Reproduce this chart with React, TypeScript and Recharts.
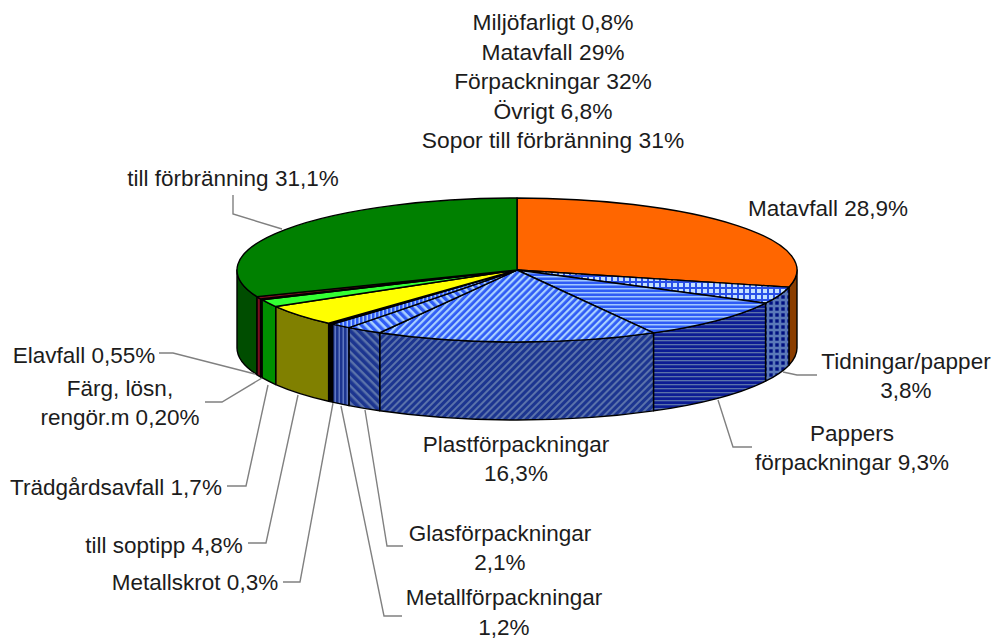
import { PieChart, Pie } from 'recharts';

const categories = [
  'Matavfall',
  'Tidningar/papper',
  'Pappers förpackningar',
  'Plastförpackningar',
  'Glasförpackningar',
  'Metallförpackningar',
  'Metallskrot',
  'till soptipp',
  'Trädgårdsavfall',
  'Färg, lösn, rengör.m',
  'Elavfall',
  'till förbränning',
];
const shares = [28.9, 3.8, 9.3, 16.3, 2.1, 1.2, 0.3, 4.8, 1.7, 0.2, 0.55, 31.1];

const summaryLines = [
  'Miljöfarligt 0,8%',
  'Matavfall 29%',
  'Förpackningar 32%',
  'Övrigt 6,8%',
  'Sopor till förbränning 31%',
];

const labelLines = [
  ['Matavfall 28,9%'],
  ['Tidningar/papper', '3,8%'],
  ['Pappers', 'förpackningar 9,3%'],
  ['Plastförpackningar', '16,3%'],
  ['Glasförpackningar', '2,1%'],
  ['Metallförpackningar', '1,2%'],
  ['Metallskrot 0,3%'],
  ['till soptipp 4,8%'],
  ['Trädgårdsavfall 1,7%'],
  ['Färg, lösn,', 'rengör.m 0,20%'],
  ['Elavfall 0,55%'],
  ['till förbränning 31,1%'],
];

// label centre x, first line centre y, then the leader line points
const labelSpots: { x: number; y: number; leader?: string }[] = [
  { x: 828, y: 208 },
  { x: 906, y: 361, leader: '817,375 797,375 783,372' },
  { x: 852, y: 433, leader: '752,447 733,447 718,400' },
  { x: 516, y: 444 },
  { x: 500, y: 533, leader: '403,546 387,546 365,410' },
  { x: 504, y: 597.5, leader: '402,616 384,616 341,406' },
  { x: 195, y: 582, leader: '283,582 300,582 333,403' },
  { x: 164, y: 545, leader: '248,543 266,543 298,395' },
  { x: 116, y: 487, leader: '227,486 246,486 268,385' },
  { x: 120, y: 388, leader: '205,402 222,402 262,378' },
  { x: 84, y: 355, leader: '159,353 173,353 255,374' },
  { x: 233, y: 178, leader: '233,195 233,214 282,229' },
];

const topFills = [
  '#ff6600', 'url(#checkTop)', 'url(#horizTop)', 'url(#slashTop)', 'url(#backTop)', 'url(#vertTop)',
  '#000000', '#ffff00', '#33ff33', '#cc0000', '#7a0f1e', '#008000',
];
const wallFills = [
  '#8a3d00', 'url(#checkWall)', 'url(#horizWall)', 'url(#slashWall)', 'url(#backWall)', 'url(#vertWall)',
  '#000000', '#808000', '#009000', '#800000', '#7a0f1e', '#004d00',
];

const SQUASH = 72 / 280;
const DEPTH = 78;
const RAD = Math.PI / 180;
const FONT = "'Liberation Sans', Arial, sans-serif";

const tableData = categories.map((name, i) => ({ name, value: shares[i], index: i }));

const SliceShape = (props: any) => {
  const { cx, cy, outerRadius, startAngle, endAngle, payload } = props;
  const i = payload?.index ?? props.index ?? 0;
  const rx = outerRadius;
  const ry = outerRadius * SQUASH;
  const px = (a: number) => cx + rx * Math.cos(a * RAD);
  const py = (a: number) => cy - ry * Math.sin(a * RAD);

  const hi = Math.max(startAngle, endAngle);
  const lo = Math.min(startAngle, endAngle);
  // the wall only shows on the front half of the rim
  const wallHi = Math.min(hi, 0);
  const wallLo = Math.max(lo, -180);
  const hasWall = wallHi > wallLo;

  const large = hi - lo > 180 ? 1 : 0;
  const top = `M${cx},${cy} L${px(hi)},${py(hi)} A${rx},${ry} 0 ${large} 1 ${px(lo)},${py(lo)} Z`;
  const wall = hasWall
    ? `M${px(wallHi)},${py(wallHi)} A${rx},${ry} 0 0 1 ${px(wallLo)},${py(wallLo)} L${px(wallLo)},${py(wallLo) + DEPTH} A${rx},${ry} 0 0 0 ${px(wallHi)},${py(wallHi) + DEPTH} Z`
    : '';

  return (
    <g>
      {hasWall && <path d={wall} fill={wallFills[i]} stroke="#000" strokeWidth={1.4} strokeLinejoin="round" />}
      <path d={top} fill={topFills[i]} stroke="#000" strokeWidth={1.4} strokeLinejoin="round" />
    </g>
  );
};

const SliceLabel = (props: any) => {
  const i = props.index;
  const spot = labelSpots[i];
  return (
    <g>
      {spot.leader && <polyline points={spot.leader} fill="none" stroke="#808080" strokeWidth={1.4} />}
      {labelLines[i].map((line, n) => (
        <text key={line} x={spot.x} y={spot.y + n * 29.5} textAnchor="middle" dominantBaseline="central" fontSize={22.5} fill="#1c1c1c" fontFamily={FONT}>
          {line}
        </text>
      ))}
    </g>
  );
};

const stripe = (id: string, size: number, angle: number, bg: string, fg: string, band: number) => (
  <pattern id={id} patternUnits="userSpaceOnUse" width={size} height={size} patternTransform={`rotate(${angle})`}>
    <rect width={size} height={size} fill={bg} />
    <rect width={size} height={band} fill={fg} />
  </pattern>
);

const dots = (id: string, size: number, bg: string, fg: string, dot: number) => (
  <pattern id={id} patternUnits="userSpaceOnUse" width={size} height={size}>
    <rect width={size} height={size} fill={bg} />
    <rect x={(size - dot) / 2} y={(size - dot) / 2} width={dot} height={dot} fill={fg} />
  </pattern>
);

export default function App() {
  return (
    <div style={{ position: 'absolute', left: 0, top: 0, width: 997, height: 640, background: '#fff' }}>
      <PieChart width={997} height={640} margin={{ top: 0, right: 0, bottom: 0, left: 0 }}>
        <defs>
          {dots('checkTop', 6, '#2a50e8', '#c4e0ff', 4)}
          {dots('checkWall', 6, '#5a78b8', '#000f80', 3.4)}
          {stripe('horizTop', 4, 0, '#2f5cf5', '#a0c8ff', 1.5)}
          {stripe('horizWall', 4, 0, '#0c1c94', '#5a72aa', 1.3)}
          {stripe('slashTop', 5, -45, '#2f5cf5', '#a8d0ff', 2.2)}
          {stripe('slashWall', 5, -45, '#1c3590', '#5a72aa', 2)}
          {stripe('backTop', 6, 45, '#2f5cf5', '#a8d0ff', 2.6)}
          {stripe('backWall', 6, 45, '#1c3590', '#5a72aa', 2.4)}
          {stripe('vertTop', 4, 90, '#2f5cf5', '#a0c8ff', 1.5)}
          {stripe('vertWall', 4, 90, '#1c3590', '#6078c0', 1.5)}
        </defs>
        <Pie
          data={tableData}
          dataKey="value"
          nameKey="name"
          cx={517}
          cy={270}
          innerRadius={0}
          outerRadius={280}
          startAngle={90}
          endAngle={-270}
          paddingAngle={0}
          stroke="none"
          shape={SliceShape}
          label={SliceLabel}
          labelLine={false}
          isAnimationActive={false}
        />
        {summaryLines.map((line, n) => (
          <text key={line} x={553} y={22 + n * 29.5} textAnchor="middle" dominantBaseline="central" fontSize={22.8} fill="#1c1c1c" fontFamily={FONT}>
            {line}
          </text>
        ))}
      </PieChart>
    </div>
  );
}
